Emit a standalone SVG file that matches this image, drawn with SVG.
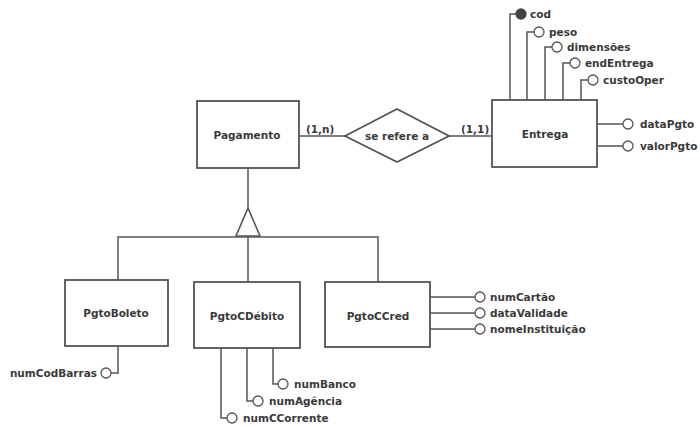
<svg xmlns="http://www.w3.org/2000/svg" width="700" height="428" viewBox="0 0 700 428">
<style>
.box{fill:#fff;stroke:#555;stroke-width:1.8}
.ln{fill:none;stroke:#555;stroke-width:1.5}
.att{fill:#fff;stroke:#555;stroke-width:1.3}
.key{fill:#444;stroke:#444;stroke-width:1.3}
text{font-family:"DejaVu Sans",Verdana,sans-serif;font-weight:bold;font-size:10.5px;fill:#3a3a3a}
.c{text-anchor:middle}
.r{text-anchor:end}
</style>
<rect width="700" height="428" fill="#fff"/>
<g id="connectors">
<path class="ln" d="M299 136H345M449 136H492"/>
<path class="ln" d="M248 168V208M248 237V282M118 280V237H378V282"/>
<path class="ln" d="M510 100V14H516M527 100V32H534M545 100V47H552M563 100V63H570M581 100V80H588"/>
<path class="ln" d="M597 124H623M597 146H623"/>
<path class="ln" d="M430 297H475M430 313H475M430 329H475"/>
<path class="ln" d="M118 346V373H111"/>
<path class="ln" d="M273 348V384H278M247 348V401H253M221 348V418H227"/>
<polygon points="248,208 236,236 260,236" fill="#fff" stroke="#555" stroke-width="1.6"/>
<text x="306" y="133">(1,n)</text>
<text x="461" y="133">(1,1)</text>
</g>
<g id="Pagamento"><rect class="box" x="197" y="101" width="102" height="67"/><text class="c" x="247" y="139">Pagamento</text></g>
<g id="se_refere_a"><polygon class="box" points="345,136 397,109 449,136 397,162"/><text class="c" x="397" y="140">se refere a</text></g>
<g id="Entrega"><rect class="box" x="492" y="100" width="105" height="67"/><text class="c" x="545" y="138">Entrega</text></g>
<g id="PgtoBoleto"><rect class="box" x="65" y="280" width="103" height="66"/><text class="c" x="116" y="317">PgtoBoleto</text></g>
<g id="PgtoCDebito"><rect class="box" x="194" y="282" width="106" height="66"/><text class="c" x="247" y="320">PgtoCDébito</text></g>
<g id="PgtoCCred"><rect class="box" x="325" y="282" width="105" height="65"/><text class="c" x="378" y="320">PgtoCCred</text></g>
<g id="attr_cod"><circle class="key" cx="521" cy="14" r="5"/><text x="530" y="18">cod</text></g>
<g id="attr_peso"><circle class="att" cx="539" cy="32" r="5"/><text x="549" y="36">peso</text></g>
<g id="attr_dimensoes"><circle class="att" cx="557" cy="47" r="5"/><text x="567" y="51">dimensões</text></g>
<g id="attr_endEntrega"><circle class="att" cx="575" cy="63" r="5"/><text x="585" y="67">endEntrega</text></g>
<g id="attr_custoOper"><circle class="att" cx="593" cy="80" r="5"/><text x="603" y="84">custoOper</text></g>
<g id="attr_dataPgto"><circle class="att" cx="628" cy="124" r="5"/><text x="640" y="128">dataPgto</text></g>
<g id="attr_valorPgto"><circle class="att" cx="628" cy="146" r="5"/><text x="640" y="150">valorPgto</text></g>
<g id="attr_numCartao"><circle class="att" cx="480" cy="297" r="5"/><text x="490" y="301">numCartão</text></g>
<g id="attr_dataValidade"><circle class="att" cx="480" cy="313" r="5"/><text x="490" y="317">dataValidade</text></g>
<g id="attr_nomeInstituicao"><circle class="att" cx="480" cy="329" r="5"/><text x="490" y="333">nomeInstituição</text></g>
<g id="attr_numCodBarras"><circle class="att" cx="106" cy="373" r="5"/><text class="r" x="97" y="377">numCodBarras</text></g>
<g id="attr_numBanco"><circle class="att" cx="283" cy="384" r="5"/><text x="294" y="388">numBanco</text></g>
<g id="attr_numAgencia"><circle class="att" cx="258" cy="401" r="5"/><text x="269" y="405">numAgência</text></g>
<g id="attr_numCCorrente"><circle class="att" cx="232" cy="418" r="5"/><text x="243" y="422">numCCorrente</text></g>
</svg>
